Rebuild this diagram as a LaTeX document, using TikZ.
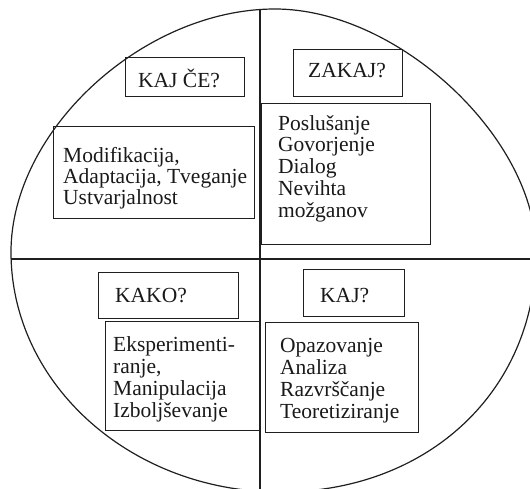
\documentclass[tikz,border=0pt]{standalone}
\usepackage{fontspec}
\setmainfont{Liberation Serif}
\begin{document}
\begin{tikzpicture}[x=1pt,y=-1pt,
  ink/.style={line width=1.2pt, draw=black!88},
  box/.style={ink, draw, inner sep=0pt, anchor=north west},
  txt/.style={align=left, inner sep=0pt, anchor=base west, text=black!90,
              font=\fontsize{21.5}{21.7}\selectfont},
  txtb/.style={txt, font=\fontsize{21.5}{22}\selectfont}]
\useasboundingbox (0,0) rectangle (530,488);
\clip (0,0) rectangle (530,488);
% outer closed curve
\coordinate (L) at (11,252);
\coordinate (T) at (275,9);
\coordinate (R) at (536,252);
\coordinate (B) at (280,492);
\draw[ink] (L) .. controls (11,130.5) and (143,9) .. (T)
  .. controls (398,9) and (536,138) .. (R)
  .. controls (536,391) and (428,492) .. (B)
  .. controls (131.5,492) and (11,384.5) .. (L) -- cycle;
% dividing lines
\coordinate (vtop) at (260,10);
\coordinate (vbot) at (260,495);
\coordinate (hleft) at (11,259);
\coordinate (hright) at (537,259);
\draw[ink] (vtop) -- (vbot);
\draw[ink] (hleft) -- (hright);
% boxes
\node[box, minimum width=119, minimum height=39] (b1) at (125,57) {};
\node[box, minimum width=201, minimum height=92] (b2) at (53,126) {};
\node[box, minimum width=109, minimum height=47] (b3) at (293,49) {};
\node[box, minimum width=169, minimum height=141] (b4) at (261,103) {};
\node[box, minimum width=140, minimum height=46] (b5) at (98,272) {};
\node[box, minimum width=154, minimum height=109] (b6) at (105,321) {};
\node[box, minimum width=101, minimum height=47] (b7) at (303,269) {};
\node[box, minimum width=153, minimum height=110] (b8) at (265,322) {};
% texts (anchored at the baseline of the last line)
\node[txt] (t1) at (138,87) {KAJ ČE?};
\node[txt, font=\fontsize{21.5}{21}\selectfont] (t2) at (63,204) {Modifikacija,\\Adaptacija, Tveganje\\Ustvarjalnost};
\node[txt] (t3) at (308,77) {ZAKAJ?};
\node[txt] (t4) at (278,217) {Poslušanje\\Govorjenje\\Dialog\\Nevihta\\možganov};
\node[txt] (t5) at (115,302) {KAKO?};
\node[txtb] (t6) at (113,417) {Eksperimenti-\\ranje,\\Manipulacija\\Izboljševanje};
\node[txt] (t7) at (320,302) {KAJ?};
\node[txtb] (t8) at (280,418) {Opazovanje\\Analiza\\Razvrščanje\\Teoretiziranje};
\end{tikzpicture}
\end{document}
